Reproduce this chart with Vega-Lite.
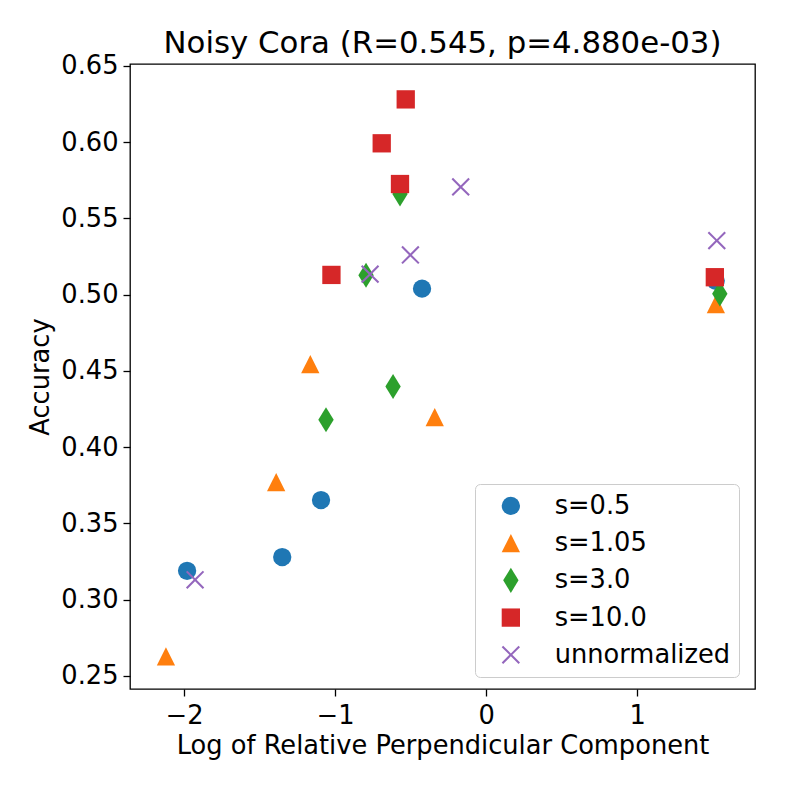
{
  "$schema": "https://vega.github.io/schema/vega-lite/v6.json",
  "width": 625,
  "height": 625,
  "autosize": {"type": "none"},
  "padding": {"left": 130, "top": 64, "right": 34, "bottom": 100},
  "background": "white",
  "config": {
    "font": "DejaVu Sans",
    "view": {"stroke": "black", "strokeWidth": 1.3}
  },
  "title": {
    "text": "Noisy Cora (R=0.545, p=4.880e-03)",
    "fontSize": 30.8,
    "fontWeight": "normal",
    "color": "black",
    "baseline": "alphabetic",
    "offset": 9,
    "dy": 40,
    "anchor": "middle"
  },
  "data": {
    "values": [
      {"series": "s=0.5", "log_perp": -1.98, "accuracy": 0.3189},
      {"series": "s=0.5", "log_perp": -1.35, "accuracy": 0.3279},
      {"series": "s=0.5", "log_perp": -1.093, "accuracy": 0.3653},
      {"series": "s=0.5", "log_perp": -0.424, "accuracy": 0.5039},
      {"series": "s=0.5", "log_perp": 1.521, "accuracy": 0.509},
      {"series": "s=1.05", "log_perp": -2.12, "accuracy": 0.2628},
      {"series": "s=1.05", "log_perp": -1.39, "accuracy": 0.3771},
      {"series": "s=1.05", "log_perp": -1.164, "accuracy": 0.4544},
      {"series": "s=1.05", "log_perp": -0.34, "accuracy": 0.4197},
      {"series": "s=1.05", "log_perp": 1.522, "accuracy": 0.4938},
      {"series": "s=3.0", "log_perp": -1.06, "accuracy": 0.4179},
      {"series": "s=3.0", "log_perp": -0.616, "accuracy": 0.4397},
      {"series": "s=3.0", "log_perp": -0.795, "accuracy": 0.5127},
      {"series": "s=3.0", "log_perp": -0.57, "accuracy": 0.566},
      {"series": "s=3.0", "log_perp": 1.548, "accuracy": 0.5005},
      {"series": "s=10.0", "log_perp": -0.532, "accuracy": 0.628},
      {"series": "s=10.0", "log_perp": -0.691, "accuracy": 0.5992},
      {"series": "s=10.0", "log_perp": -0.57, "accuracy": 0.5725},
      {"series": "s=10.0", "log_perp": -1.024, "accuracy": 0.5129},
      {"series": "s=10.0", "log_perp": 1.515, "accuracy": 0.5114},
      {"series": "unnormalized", "log_perp": -1.927, "accuracy": 0.313},
      {"series": "unnormalized", "log_perp": -0.768, "accuracy": 0.5134},
      {"series": "unnormalized", "log_perp": -0.501, "accuracy": 0.526},
      {"series": "unnormalized", "log_perp": -0.168, "accuracy": 0.5706},
      {"series": "unnormalized", "log_perp": 1.528, "accuracy": 0.5354}
    ]
  },
  "mark": {"type": "point", "filled": true, "opacity": 1, "size": 335, "strokeWidth": 0},
  "encoding": {
    "x": {
      "field": "log_perp",
      "type": "quantitative",
      "scale": {"domain": [-2.358, 1.781], "nice": false, "zero": false},
      "axis": {
        "title": "Log of Relative Perpendicular Component",
        "titleFontSize": 25.7,
        "titleFontWeight": "normal",
        "titleColor": "black",
        "titleBaseline": "alphabetic",
        "titleX": 312.5,
        "titleY": 64,
        "values": [-2, -1, 0, 1],
        "labelExpr": "datum.value < 0 ? '\u2212' + abs(datum.value) : datum.value",
        "labelFontSize": 25.7,
        "labelColor": "black",
        "labelPadding": 7,
        "tickColor": "black",
        "tickSize": 7,
        "tickWidth": 1.3,
        "domain": false,
        "grid": false
      }
    },
    "y": {
      "field": "accuracy",
      "type": "quantitative",
      "scale": {"domain": [0.2414, 0.6512], "nice": false, "zero": false},
      "axis": {
        "title": "Accuracy",
        "titleFontSize": 25.7,
        "titleFontWeight": "normal",
        "titleColor": "black",
        "titleBaseline": "alphabetic",
        "titleAngle": -90,
        "titleX": -82,
        "titleY": 312.5,
        "values": [0.25, 0.3, 0.35, 0.4, 0.45, 0.5, 0.55, 0.6, 0.65],
        "format": ".2f",
        "labelFontSize": 25.7,
        "labelColor": "black",
        "labelPadding": 5,
        "tickColor": "black",
        "tickSize": 7,
        "tickWidth": 1.3,
        "domain": false,
        "grid": false
      }
    },
    "color": {
      "field": "series",
      "type": "nominal",
      "scale": {
        "domain": ["s=0.5", "s=1.05", "s=3.0", "s=10.0", "unnormalized"],
        "range": ["#1f77b4", "#ff7f0e", "#2ca02c", "#d62728", "#9467bd"]
      },
      "legend": {
        "title": null,
        "orient": "none",
        "legendX": 345,
        "legendY": 420,
        "padding": 9,
        "strokeColor": "#cccccc",
        "cornerRadius": 5,
        "fillColor": "rgba(255,255,255,0.8)",
        "labelFontSize": 25.7,
        "labelColor": "black",
        "labelLimit": 400,
        "labelOffset": 31,
        "symbolOffset": 14,
        "symbolSize": 335,
        "symbolOpacity": 1,
        "symbolStrokeWidth": 0,
        "rowPadding": 10.25
      }
    },
    "shape": {
      "field": "series",
      "type": "nominal",
      "scale": {
        "domain": ["s=0.5", "s=1.05", "s=3.0", "s=10.0", "unnormalized"],
        "range": [
          "circle",
          "M0,-1L1,1L-1,1Z",
          "M0,-1.37L0.84,0L0,1.37L-0.84,0Z",
          "square",
          "M-1,-0.84L-0.84,-1L0,-0.16L0.84,-1L1,-0.84L0.16,0L1,0.84L0.84,1L0,0.16L-0.84,1L-1,0.84L-0.16,0Z"
        ]
      }
    }
  }
}
